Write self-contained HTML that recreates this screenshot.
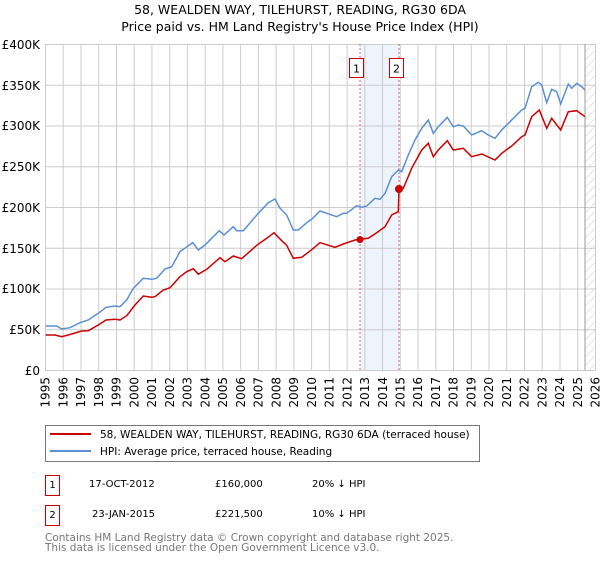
<!DOCTYPE html>
<html><head><meta charset="utf-8"><style>
body{margin:0;background:#fff;font-family:"DejaVu Sans","Liberation Sans",sans-serif;}
svg text{font-family:"DejaVu Sans","Liberation Sans",sans-serif;}
</style></head><body>
<svg width="600" height="560" xmlns="http://www.w3.org/2000/svg">
<defs><pattern id="h" width="6" height="6" patternUnits="userSpaceOnUse" patternTransform="rotate(45)"><line x1="0" y1="0" x2="0" y2="6" stroke="#ccc" stroke-width="1"/></pattern></defs>
<text x="300" y="14" font-size="12.5" text-anchor="middle">58, WEALDEN WAY, TILEHURST, READING, RG30 6DA</text>
<text x="300" y="31" font-size="12.5" text-anchor="middle">Price paid vs. HM Land Registry's House Price Index (HPI)</text>
<rect x="360" y="44" width="39" height="326" fill="#eef4fd"/>
<rect x="585" y="44" width="10.5" height="326" fill="url(#h)"/>
<g stroke="#cccccc" stroke-width="1">
<line x1="45.5" x2="595.5" y1="44.5" y2="44.5"/><line x1="45.5" x2="595.5" y1="85.3" y2="85.3"/><line x1="45.5" x2="595.5" y1="126" y2="126"/><line x1="45.5" x2="595.5" y1="166.8" y2="166.8"/><line x1="45.5" x2="595.5" y1="207.5" y2="207.5"/><line x1="45.5" x2="595.5" y1="248.3" y2="248.3"/><line x1="45.5" x2="595.5" y1="289" y2="289"/><line x1="45.5" x2="595.5" y1="329.8" y2="329.8"/><line x1="45.5" x2="595.5" y1="370.5" y2="370.5"/>
<line x1="45.5" x2="45.5" y1="44" y2="370"/><line x1="63.2" x2="63.2" y1="44" y2="370"/><line x1="81" x2="81" y1="44" y2="370"/><line x1="98.7" x2="98.7" y1="44" y2="370"/><line x1="116.5" x2="116.5" y1="44" y2="370"/><line x1="134.2" x2="134.2" y1="44" y2="370"/><line x1="151.9" x2="151.9" y1="44" y2="370"/><line x1="169.7" x2="169.7" y1="44" y2="370"/><line x1="187.4" x2="187.4" y1="44" y2="370"/><line x1="205.2" x2="205.2" y1="44" y2="370"/><line x1="222.9" x2="222.9" y1="44" y2="370"/><line x1="240.6" x2="240.6" y1="44" y2="370"/><line x1="258.4" x2="258.4" y1="44" y2="370"/><line x1="276.1" x2="276.1" y1="44" y2="370"/><line x1="293.9" x2="293.9" y1="44" y2="370"/><line x1="311.6" x2="311.6" y1="44" y2="370"/><line x1="329.3" x2="329.3" y1="44" y2="370"/><line x1="347.1" x2="347.1" y1="44" y2="370"/><line x1="364.8" x2="364.8" y1="44" y2="370"/><line x1="382.6" x2="382.6" y1="44" y2="370"/><line x1="400.3" x2="400.3" y1="44" y2="370"/><line x1="418" x2="418" y1="44" y2="370"/><line x1="435.8" x2="435.8" y1="44" y2="370"/><line x1="453.5" x2="453.5" y1="44" y2="370"/><line x1="471.3" x2="471.3" y1="44" y2="370"/><line x1="489" x2="489" y1="44" y2="370"/><line x1="506.7" x2="506.7" y1="44" y2="370"/><line x1="524.5" x2="524.5" y1="44" y2="370"/><line x1="542.2" x2="542.2" y1="44" y2="370"/><line x1="560" x2="560" y1="44" y2="370"/><line x1="577.7" x2="577.7" y1="44" y2="370"/><line x1="595.5" x2="595.5" y1="44" y2="370"/>
</g>
<line x1="585" x2="585" y1="44" y2="370" stroke="#999"/>
<line x1="360" x2="360" y1="44" y2="370" stroke="#e06070" stroke-dasharray="2,2"/>
<line x1="399" x2="399" y1="44" y2="370" stroke="#e06070" stroke-dasharray="2,2"/>
<polyline fill="none" stroke="#5b8fd4" stroke-width="1.5" points="45.7,326 56.7,326 61.7,329 70,327.7 80,322.7 88.3,320 98.3,313.3 106,307.3 115,306 120,306.7 126.7,300 133.3,288.3 143.3,278.3 151.7,279.3 156.7,278.3 165,269 171.7,266.7 180,251.7 192.7,242.7 198.3,250 205,245 219.3,230.7 224,235 233.3,226.7 236.7,230.7 243.3,230.7 258.3,213.3 268.3,202.7 275,199 280,208.3 286.7,215 293.3,230 298.3,230 306.7,222.7 311.7,219.3 320,211 325,212.7 336.7,216.7 343.3,213.3 346.7,213.3 356.7,205.7 361.7,207.3 366.7,206 375,198.3 380,199.3 385,193.3 391.7,176.7 398.3,170 401.7,171.7 408.3,155 415,140 421.7,128.3 428.3,120 433.3,133.3 438.3,126.7 447.3,117.3 453.3,126.7 458.3,125 463.3,126 471.7,135 481.7,130.7 488.3,135 495,138.3 501.7,130 510,121.7 521.7,110 525,108.3 531.7,86.7 538.3,82.3 541.7,85 546.7,102.7 551.7,89.3 556.7,91.7 560.7,104 568.3,84 571.7,88.3 576.7,83.3 581.7,86.7 585,90"/>
<polyline fill="none" stroke="#cc0000" stroke-width="1.5" points="45.7,335 55,335 61.7,336.7 71.7,334 81.7,331 88.3,330.7 98.3,325 106,320 115,319.3 120,320 126.7,315.7 135,305 143.3,296 151.7,297.3 155,296.7 163.3,290 170,287.7 180,276.7 186.7,271.7 193.3,268.7 198.3,274.3 206.7,269.3 220,257.7 225,261.7 233.3,256 241.7,258.7 256.7,245.3 266.7,238.3 274,232.7 281.7,240.7 286.7,245.3 293.3,258.3 301.7,257.3 308.3,252.3 313.3,248.3 320,242.7 335,247.3 343.3,244 355,240 360,239.3 368.3,238.3 376.7,232.7 385,226.7 391.7,215 398.3,211.7 399,189.3 403.3,188.3 411.7,168.3 421.7,150 428.3,143.3 433.3,156.7 438.3,150 447.3,140.7 453.3,150 463.3,148.3 471.7,156.7 481.7,154 495,160 501.7,153.3 511.7,146 521.7,136.7 525,135 531.7,116.7 539.3,110 546.7,128.3 551.7,118.3 560.7,130 568.3,111.7 576.7,110.7 585,116.7"/>
<circle cx="360" cy="239.5" r="3.5" fill="#cc0000"/>
<circle cx="399" cy="189" r="4" fill="#cc0000"/>
<rect x="349.5" y="58.5" width="14" height="19" fill="#fff" stroke="#cc0000"/>
<text x="356.5" y="72.5" font-size="11" text-anchor="middle">1</text>
<rect x="389.5" y="58.5" width="14" height="19" fill="#fff" stroke="#cc0000"/>
<text x="396.5" y="72.5" font-size="11" text-anchor="middle">2</text>
<g font-size="12" text-anchor="end">
<text x="40" y="49">£400K</text><text x="40" y="90">£350K</text><text x="40" y="130">£300K</text><text x="40" y="171">£250K</text><text x="40" y="212">£200K</text><text x="40" y="253">£150K</text><text x="40" y="293">£100K</text><text x="40" y="334">£50K</text><text x="40" y="375">£0</text>
</g>
<g font-size="12" text-anchor="end">
<text transform="translate(49.7,377) rotate(-90)">1995</text><text transform="translate(67.4,377) rotate(-90)">1996</text><text transform="translate(85.2,377) rotate(-90)">1997</text><text transform="translate(102.9,377) rotate(-90)">1998</text><text transform="translate(120.7,377) rotate(-90)">1999</text><text transform="translate(138.4,377) rotate(-90)">2000</text><text transform="translate(156.1,377) rotate(-90)">2001</text><text transform="translate(173.9,377) rotate(-90)">2002</text><text transform="translate(191.6,377) rotate(-90)">2003</text><text transform="translate(209.4,377) rotate(-90)">2004</text><text transform="translate(227.1,377) rotate(-90)">2005</text><text transform="translate(244.8,377) rotate(-90)">2006</text><text transform="translate(262.6,377) rotate(-90)">2007</text><text transform="translate(280.3,377) rotate(-90)">2008</text><text transform="translate(298.1,377) rotate(-90)">2009</text><text transform="translate(315.8,377) rotate(-90)">2010</text><text transform="translate(333.5,377) rotate(-90)">2011</text><text transform="translate(351.3,377) rotate(-90)">2012</text><text transform="translate(369,377) rotate(-90)">2013</text><text transform="translate(386.8,377) rotate(-90)">2014</text><text transform="translate(404.5,377) rotate(-90)">2015</text><text transform="translate(422.2,377) rotate(-90)">2016</text><text transform="translate(440,377) rotate(-90)">2017</text><text transform="translate(457.7,377) rotate(-90)">2018</text><text transform="translate(475.5,377) rotate(-90)">2019</text><text transform="translate(493.2,377) rotate(-90)">2020</text><text transform="translate(510.9,377) rotate(-90)">2021</text><text transform="translate(528.7,377) rotate(-90)">2022</text><text transform="translate(546.4,377) rotate(-90)">2023</text><text transform="translate(564.2,377) rotate(-90)">2024</text><text transform="translate(581.9,377) rotate(-90)">2025</text><text transform="translate(599.7,377) rotate(-90)">2026</text>
</g>
<rect x="45.5" y="425.5" width="434" height="36" fill="#fff" stroke="#777"/>
<line x1="50" x2="91" y1="434" y2="434" stroke="#cc0000" stroke-width="2"/>
<line x1="50" x2="91" y1="451" y2="451" stroke="#5b8fd4" stroke-width="2"/>
<text x="100" y="438" font-size="10.5">58, WEALDEN WAY, TILEHURST, READING, RG30 6DA (terraced house)</text>
<text x="100" y="455" font-size="10.5">HPI: Average price, terraced house, Reading</text>
<rect x="45.5" y="475.5" width="14" height="20" fill="#fff" stroke="#cc0000"/>
<text x="52.5" y="488" font-size="10" text-anchor="middle">1</text>
<text x="89" y="487" font-size="10">17-OCT-2012</text>
<text x="215" y="487" font-size="10">£160,000</text>
<text x="312" y="487" font-size="10">20% ↓ HPI</text>
<rect x="45.5" y="505.5" width="14" height="20" fill="#fff" stroke="#cc0000"/>
<text x="52.5" y="518" font-size="10" text-anchor="middle">2</text>
<text x="92" y="517" font-size="10">23-JAN-2015</text>
<text x="215" y="517" font-size="10">£221,500</text>
<text x="312" y="517" font-size="10">10% ↓ HPI</text>
<text x="45" y="541" font-size="10.5" fill="#777">Contains HM Land Registry data © Crown copyright and database right 2025.</text>
<text x="45" y="551" font-size="10.5" fill="#777">This data is licensed under the Open Government Licence v3.0.</text>
</svg>
</body></html>
